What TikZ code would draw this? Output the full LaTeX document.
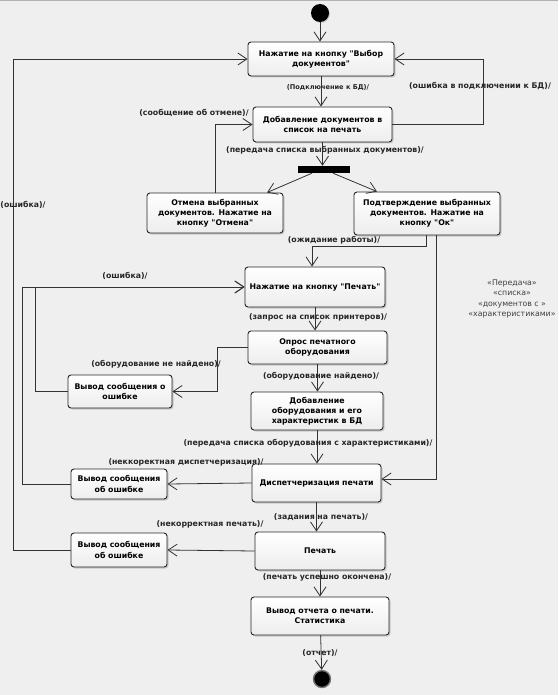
\documentclass[tikz,border=0pt]{standalone}
\usepackage{fontspec}
\newfontfamily\diagfont{DejaVu Sans}
\usetikzlibrary{arrows.meta,shadows,calc}
\definecolor{canvas}{HTML}{EFEFEF}
\definecolor{edgegray}{HTML}{333333}
\newcommand\boxfont{\diagfont\bfseries\fontsize{7.8}{10.2}\selectfont}
\newcommand\smallfont{\diagfont\bfseries\fontsize{6.6}{8}\selectfont}
\newcommand\notefont{\diagfont\fontsize{7.8}{10.5}\selectfont}
\tikzset{
  state/.style={draw=black!85, line width=0.9pt, rounded corners=3pt,
    top color=white, bottom color=black!7, align=center, inner sep=1pt,
    font=\boxfont, drop shadow={shadow xshift=1.5pt, shadow yshift=-1.5pt, opacity=0.35}},
  sz/.style 2 args={minimum width=#1, minimum height=#2},
  lbl/.style={inner sep=0pt, font=\boxfont, text=black!85},
  flow/.style={draw=edgegray, line width=0.8pt, -{Straight Barb[length=9pt,width=12pt]}},
}
\begin{document}
\begin{tikzpicture}[x=1pt, y=-1pt]
  \useasboundingbox[fill=canvas] (0,0) rectangle (558,695);
  \draw[black!30, line width=1.2pt] (0,0.6) -- (558,0.6);

  % states
  \node[circle, fill=black, minimum size=18pt, inner sep=0pt,
    drop shadow={shadow xshift=1pt, shadow yshift=-1pt, opacity=0.3}] (start) at (320,13) {};
  \node[state, sz={146pt}{34pt}] (b1) at (321,59) {Нажатие на кнопку "Выбор\\документов"};
  \node[state, sz={139pt}{35pt}] (b2) at (322.5,124.5) {Добавление документов в\\список на печать};
  \node[fill=black, minimum width=52pt, minimum height=7pt, inner sep=0pt] (fork) at (324,169.5) {};
  \node[state, sz={136pt}{40pt}] (b3) at (215,213) {Отмена выбранных\\документов. Нажатие на\\кнопку "Отмена"};
  \node[state, sz={146pt}{43pt}] (b4) at (427,213.5) {Подтверждение выбранных\\документов. Нажатие на\\кнопку "Ок"};
  \node[state, sz={140pt}{40pt}] (b5) at (315,287) {Нажатие на кнопку "Печать"};
  \node[state, sz={139pt}{33pt}] (b6) at (317.5,347.5) {Опрос печатного\\оборудования};
  \node[state, sz={104pt}{33pt}] (e1) at (120,391.5) {Вывод сообщения о\\ошибке};
  \node[state, sz={132pt}{38pt}] (b7) at (317,411) {Добавление\\оборудования и его\\характеристик в БД};
  \node[state, sz={129pt}{38pt}] (b8) at (316.5,483) {Диспетчеризация печати};
  \node[state, sz={96pt}{30pt}] (e2) at (119,484) {Вывод сообщения\\об ошибке};
  \node[state, sz={130pt}{38pt}] (b9) at (320,551) {Печать};
  \node[state, sz={96pt}{34pt}] (e3) at (119,550) {Вывод сообщения\\об ошибке};
  \node[state, sz={138pt}{38pt}] (b10) at (320,616) {Вывод отчета о печати.\\Статистика};
  \node[circle, draw=black!55, line width=1.4pt, fill=black, minimum size=17pt, inner sep=0pt] (stop) at (322,679) {};

  % transitions
  \draw[flow] (start) -- (start |- b1.north);
  \draw[flow] (b1) -- (b1 |- b2.north);
  \draw[flow] (b2.east) -- ++(91,0) |- (b1.east);
  \draw[flow] (b2) -- (b2 |- fork.north);
  \draw[flow] ([xshift=-12pt]fork.south) -- ([xshift=52pt]b3.north);
  \draw[flow] ([xshift=9pt]fork.south) -- ([xshift=-50pt]b4.north);
  \draw[flow] (b3.north) |- (b2.west);
  \draw[flow] ([xshift=-1pt]b4.south) -- ++(0,11) -| ([xshift=-3pt]b5.north);
  \draw[flow] ([xshift=9pt]b4.south) |- ([yshift=4pt]b8.east);
  \draw[flow] (b5) -- (b5 |- b6.north);
  \draw[flow] (b6.west) -- ++(-30,0) |- (e1.east);
  \draw[flow] (e1.west) -- ++(-32,0) |- (b5.west);
  \draw[flow] (b6) -- (b6 |- b7.north);
  \draw[flow] (b7) -- (b7 |- b8.north);
  \draw[flow] (b8.west) -- (e2.east);
  \draw[flow] (e2.west) -- ++(-48,0) |- (b5.west);
  \draw[flow] (b8) -- (b8 |- b9.north);
  \draw[flow] (b9.west) -- (e3.east);
  \draw[flow] (e3.west) -- ++(-57,0) |- (b1.west);
  \draw[flow] (b9) -- (b9 |- b10.north);
  \draw[flow] (b10) -- (stop);

  % guards
  \node[lbl, font=\smallfont] (g1) at (328,88) {(Подключение к БД)/};
  \node[lbl] (g2) at (480,86) {(ошибка в подключении к БД)/};
  \node[lbl] (g3) at (194,113) {(сообщение об отмене)/};
  \node[lbl] (g4) at (325,150) {(передача списка выбранных документов)/};
  \node[lbl] (g5) at (23,205) {(ошибка)/};
  \node[lbl] (g6) at (334,240) {(ожидание работы)/};
  \node[lbl] (g7) at (125,276) {(ошибка)/};
  \node[lbl] (g8) at (318,317) {(запрос на список принтеров)/};
  \node[lbl] (g9) at (156,364) {(оборудование не найдено)/};
  \node[lbl] (g10) at (321,376) {(оборудование найдено)/};
  \node[lbl] (g11) at (308,443) {(передача списка оборудования с характеристиками)/};
  \node[lbl] (g12) at (186,462) {(неккоректная диспетчеризация)/};
  \node[lbl] (g13) at (321,517) {(задания на печать)/};
  \node[lbl] (g14) at (210,524) {(некорректная печать)/};
  \node[lbl] (g15) at (327,577) {(печать успешно окончена)/};
  \node[lbl] (g16) at (320,653) {(отчет)/};
  \node[align=center, inner sep=0pt, font=\notefont, text=black!75] (memo) at (512,299)
    {«Передача»\\«списка»\\«документов с »\\«характеристиками»};
\end{tikzpicture}
\end{document}
